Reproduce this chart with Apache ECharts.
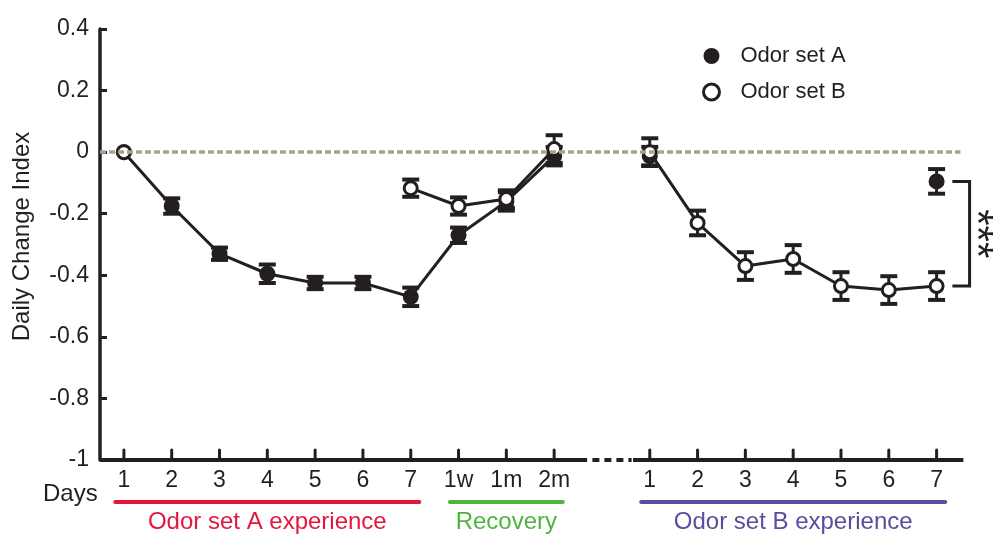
<!DOCTYPE html>
<html><head><meta charset="utf-8">
<script src="https://cdn.jsdelivr.net/npm/echarts@6/dist/echarts.min.js"></script>
<style>html,body{margin:0;padding:0;background:#fff}#c{width:993px;height:535px}</style>
</head><body><div id="c"></div>
<script>
// ---------- data ----------
const categories = ['1','2','3','4','5','6','7','1w','1m','2m','','1','2','3','4','5','6','7'];
const seriesNames = ['Odor set A', 'Odor set B'];
// Odor set A (filled)
const setA    = [0, -0.175, -0.33, -0.395, -0.425, -0.425, -0.47, -0.27, -0.16, -0.013, null, -0.013, null, null, null, null, null, -0.095];
const setAErr = [0, 0.025, 0.02, 0.03, 0.02, 0.02, 0.03, 0.025, 0.03, 0.03, null, 0.03, null, null, null, null, null, 0.04];
// Odor set B (open)
const setB    = [0, null, null, null, null, null, -0.117, -0.175, -0.152, 0.01, null, 0, -0.23, -0.37, -0.347, -0.435, -0.448, -0.435];
const setBErr = [0, null, null, null, null, null, 0.028, 0.028, 0.028, 0.045, null, 0.045, 0.04, 0.045, 0.045, 0.045, 0.045, 0.045];
const yMin = -1, yMax = 0.4, yStep = 0.2;
const groupLabels = ['Odor set A experience', 'Recovery', 'Odor set B experience'];
const groupStart  = [0, 7, 11];
const groupEnd    = [6, 9, 17];
const sigLabel = '***';
const xLead = 'Days';
const yTitle = 'Daily Change Index';

// ---------- styles ----------
const ink = '#231f20';
const groupColors = ['#e3173e', '#4fb43d', '#5b4c9c'];
const FONT = 'Liberation Sans, Arial, sans-serif';

function toData(a){ return a.map(v => v == null ? '-' : v); }
function errData(vals, errs){
  const out = [];
  vals.forEach((v, i) => { if (v != null && errs[i]) out.push([i, v, errs[i]]); });
  return out;
}
function errRender(params, api){
  const i = api.value(0), v = api.value(1), e = api.value(2);
  const t = api.coord([i, v + e]), b = api.coord([i, v - e]);
  const w = 8.5;
  return { type: 'group', children: [
    { type: 'line', shape: { x1: t[0], y1: t[1], x2: b[0], y2: b[1] }, style: { stroke: ink, lineWidth: 3 } },
    { type: 'line', shape: { x1: t[0]-w, y1: t[1], x2: t[0]+w, y2: t[1] }, style: { stroke: ink, lineWidth: 4 } },
    { type: 'line', shape: { x1: b[0]-w, y1: b[1], x2: b[0]+w, y2: b[1] }, style: { stroke: ink, lineWidth: 4 } }
  ]};
}

const chart = echarts.init(document.getElementById('c'), null, { renderer: 'canvas' });
const openStyle = { color: '#fff', borderColor: ink, borderWidth: 3 };
const filledStyle = { color: ink, borderColor: ink, borderWidth: 0 };

chart.setOption({
  animation: false,
  textStyle: { fontFamily: FONT },
  grid: { left: 100, right: 32.5, top: 29, bottom: 75, containLabel: false },
  legend: {
    left: 697, top: 40, orient: 'vertical', itemWidth: 16, itemHeight: 16, itemGap: 14,
    selectedMode: false,
    textStyle: { fontSize: 22, color: ink, fontFamily: FONT, padding: [0, 0, 0, 16] },
    data: [
      { name: seriesNames[0], icon: 'circle', itemStyle: filledStyle },
      { name: seriesNames[1], icon: 'circle', itemStyle: { color: '#fff', borderColor: ink, borderWidth: 3 } }
    ]
  },
  xAxis: [
    {
      type: 'category', data: categories, boundaryGap: true, position: 'bottom',
      axisLine: { show: false, onZero: false },
      axisTick: { show: false },
      axisLabel: { interval: 0, fontSize: 23, color: ink, margin: 9, fontFamily: FONT },
      splitLine: { show: false }
    },
    { type: 'value', min: -0.5, max: 17.5, show: false, position: 'top', axisLine: { onZero: false } }
  ],
  yAxis: {
    type: 'value', min: yMin, max: yMax, interval: yStep,
    axisLine: { show: true, onZero: false, lineStyle: { color: ink, width: 3.5 } },
    axisTick: { show: true, inside: true, length: 7, lineStyle: { color: ink, width: 3 } },
    axisLabel: { fontSize: 23, color: ink, margin: 11, fontFamily: FONT },
    splitLine: { show: false }
  },
  series: [
    { type: 'custom', name: 'errA', renderItem: errRender, data: errData(setA, setAErr),
      encode: { x: 0, y: 1 }, z: 2, silent: true },
    { type: 'custom', name: 'errB', renderItem: errRender, data: errData(setB, setBErr),
      encode: { x: 0, y: 1 }, z: 2, silent: true },
    { type: 'line', name: seriesNames[0], data: toData(setA), z: 3,
      symbol: 'circle', symbolSize: 16, showAllSymbol: true, connectNulls: false,
      lineStyle: { color: ink, width: 3 }, itemStyle: filledStyle,
      emphasis: { disabled: true },
      markLine: { silent: true, symbol: 'none', label: { show: false },
        lineStyle: { color: '#a8a293', width: 3.5, type: [6, 3] },
        data: [{ yAxis: 0 }] }
    },
    { type: 'line', name: seriesNames[1], data: toData(setB), z: 4,
      symbol: 'circle', symbolSize: 13, showAllSymbol: true, connectNulls: false,
      lineStyle: { color: ink, width: 3 }, itemStyle: openStyle,
      emphasis: { disabled: true } }
  ]
});

// ---------- annotations tied to the axes ----------
const px = v => chart.convertToPixel({ xAxisIndex: 1 }, v);
const py = v => chart.convertToPixel({ yAxisIndex: 0 }, v);
const yAxisPx = py(yMin);
const gfx = [];
// x-axis line with broken segment at gap
gfx.push({ type: 'line', shape: { x1: px(-0.5), y1: yAxisPx, x2: px(9.69), y2: yAxisPx }, style: { stroke: ink, lineWidth: 4 }, z: 10 });
gfx.push({ type: 'line', shape: { x1: px(9.8), y1: yAxisPx, x2: px(10.62), y2: yAxisPx }, style: { stroke: ink, lineWidth: 4, lineDash: [7, 5] }, z: 10 });
gfx.push({ type: 'line', shape: { x1: px(10.65), y1: yAxisPx, x2: px(17.56), y2: yAxisPx }, style: { stroke: ink, lineWidth: 4 }, z: 10 });
// x ticks (inside, skipping the gap category)
categories.forEach((c, i) => {
  if (c === '') return;
  const x = chart.convertToPixel({ xAxisIndex: 0 }, i);
  gfx.push({ type: 'line', shape: { x1: x, y1: yAxisPx, x2: x, y2: yAxisPx - 10 },
    style: { stroke: ink, lineWidth: 3, lineCap: 'round' }, z: 10 });
});
// group bars and labels
groupLabels.forEach((lab, k) => {
  const x1 = px(groupStart[k] - 0.18), x2 = px(groupEnd[k] + 0.18);
  gfx.push({ type: 'line', shape: { x1, y1: yAxisPx + 42, x2, y2: yAxisPx + 42 },
    style: { stroke: groupColors[k], lineWidth: 4, lineCap: 'round' } });
  gfx.push({ type: 'text', x: (x1 + x2) / 2, y: yAxisPx + 62,
    style: { text: lab, fill: groupColors[k], font: '24px ' + FONT, textAlign: 'center', textVerticalAlign: 'middle' } });
});
// "Days"
gfx.push({ type: 'text', x: 43, y: yAxisPx + 34,
  style: { text: xLead, fill: ink, font: '24px ' + FONT, textAlign: 'left', textVerticalAlign: 'middle' } });
// y title
gfx.push({ type: 'text', x: 22, y: (py(yMin) + py(yMax)) / 2 - 8, rotation: Math.PI / 2,
  style: { text: yTitle, fill: ink, font: '24px ' + FONT, textAlign: 'center', textVerticalAlign: 'middle' } });
// significance bracket
const last = categories.length - 1;
const bx1 = px(last + 0.33), bx2 = px(last + 0.69);
const by1 = py(setA[last]), by2 = py(setB[last]);
gfx.push({ type: 'polyline', shape: { points: [[bx1, by1], [bx2, by1], [bx2, by2], [bx1, by2]] },
  style: { stroke: ink, lineWidth: 3, fill: null } });
gfx.push({ type: 'text', x: bx2 + 6, y: (by1 + by2) / 2, rotation: -Math.PI / 2,
  style: { text: sigLabel, fill: ink, font: '42px ' + FONT, textAlign: 'center', textVerticalAlign: 'middle' } });

chart.setOption({ graphic: gfx });
</script>
</body></html>
